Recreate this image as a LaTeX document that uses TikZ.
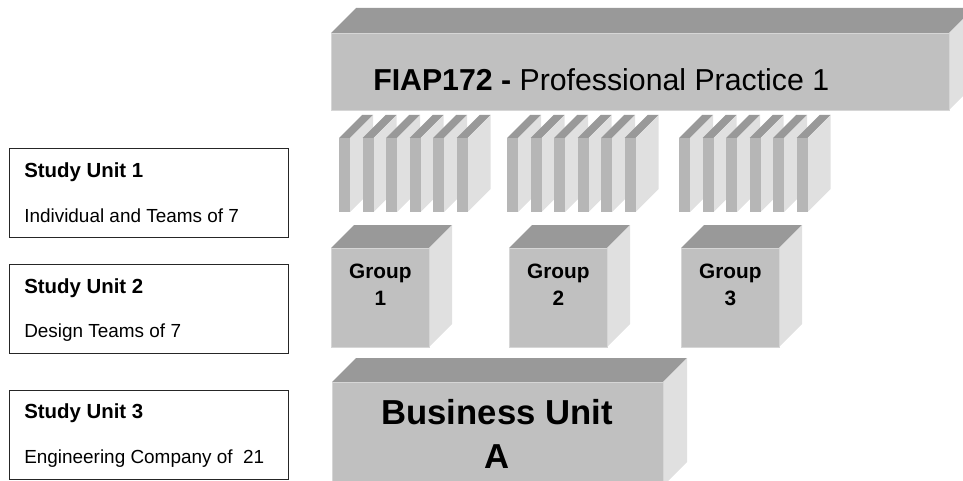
\documentclass[tikz,border=0pt]{standalone}
\usepackage{fontspec}
\setmainfont{Liberation Sans}
\definecolor{frontc}{HTML}{C0C0C0}
\definecolor{topc}{HTML}{999999}
\definecolor{sidec}{HTML}{E0E0E0}
\definecolor{platec}{HTML}{B6B6B6}
\definecolor{edgec}{HTML}{D6D6D6}
\tikzset{
  frontface/.style={fill=frontc, draw=edgec, line width=0.6pt, inner sep=0pt, anchor=north west},
  topface/.style={fill=topc},
  sideface/.style={fill=sidec},
  platefront/.style={fill=platec, inner sep=0pt, anchor=north west},
  unitbox/.style={draw=black!85, line width=0.9pt, fill=white, inner sep=0pt, anchor=north west,
     minimum width=279*0.75pt, minimum height=89*0.75pt},
  titletext/.style={font=\bfseries\fontsize{15.3pt}{18pt}\selectfont, anchor=base west, inner sep=0pt},
  subtext/.style={font=\fontsize{14.2pt}{17pt}\selectfont, anchor=base west, inner sep=0pt},
  grouptext/.style={font=\bfseries\fontsize{15.6pt}{20.25pt}\selectfont, align=center, inner sep=0pt, anchor=base},
}
% #1 name, #2 x, #3 y, #4 w, #5 h, #6 depth, #7 front style
\newcommand\blockthreed[7]{%
  \fill[topface] (#2,#3) -- ++(#6,-#6) -- ++(#4,0) -- ++(-#6,#6) -- cycle;
  \fill[sideface] (#2+#4,#3) -- ++(#6,-#6) -- ++(0,#5) -- ++(-#6,#6) -- cycle;
  \node[#7, minimum width=#4*0.75pt, minimum height=#5*0.75pt] (#1) at (#2,#3) {};
}
\begin{document}
\begin{tikzpicture}[x=0.75pt,y=-0.75pt]
\useasboundingbox (0,0) rectangle (963,481);
\clip (0,0) rectangle (963,481);
% top bar
\blockthreed{course}{331}{33}{618}{77}{25}{frontface}
\node[font=\fontsize{22.7pt}{27pt}\selectfont, anchor=base west, inner sep=0pt] (coursetext) at (373,91) {\textbf{FIAP172 -} Professional Practice 1};
% plates
\foreach \gx [count=\g] in {339,507,679}{
  \foreach \k in {0,...,5}{
    \blockthreed{plate\g-\k}{\gx+\k*23.5}{138}{11}{74}{23}{platefront}
  }
}
% group cubes
\blockthreed{group1}{331}{248}{98}{99}{23}{frontface}
\blockthreed{group2}{509}{248}{98}{99}{23}{frontface}
\blockthreed{group3}{681}{248}{98}{99}{23}{frontface}
\node[grouptext] (g1a) at ([yshift=-30*0.75pt]group1.north) {Group};
\node[grouptext] (g1b) at ([yshift=-57*0.75pt]group1.north) {1};
\node[grouptext] (g2a) at ([yshift=-30*0.75pt]group2.north) {Group};
\node[grouptext] (g2b) at ([yshift=-57*0.75pt]group2.north) {2};
\node[grouptext] (g3a) at ([yshift=-30*0.75pt]group3.north) {Group};
\node[grouptext] (g3b) at ([yshift=-57*0.75pt]group3.north) {3};
% business unit
\blockthreed{business}{332}{382}{331}{104}{24}{frontface}
\node[font=\bfseries\fontsize{26pt}{31pt}\selectfont, anchor=base, inner sep=0pt] (bua) at (497,424) {Business Unit};
\node[font=\bfseries\fontsize{26pt}{31pt}\selectfont, anchor=base, inner sep=0pt] (bub) at (497,468) {A};
% study unit boxes
\node[unitbox] (su1) at (9,148) {};
\node[unitbox] (su2) at (9,264) {};
\node[unitbox] (su3) at (9,390) {};
\node[titletext] (su1t) at (24,177) {Study Unit 1};
\node[subtext] (su1s) at (24,222) {Individual and Teams of 7};
\node[titletext] (su2t) at (24,293) {Study Unit 2};
\node[subtext] (su2s) at (24,337) {Design Teams of 7};
\node[titletext] (su3t) at (24,418) {Study Unit 3};
\node[subtext] (su3s) at (24,463) {Engineering Company of~ 21};
\end{tikzpicture}
\end{document}
